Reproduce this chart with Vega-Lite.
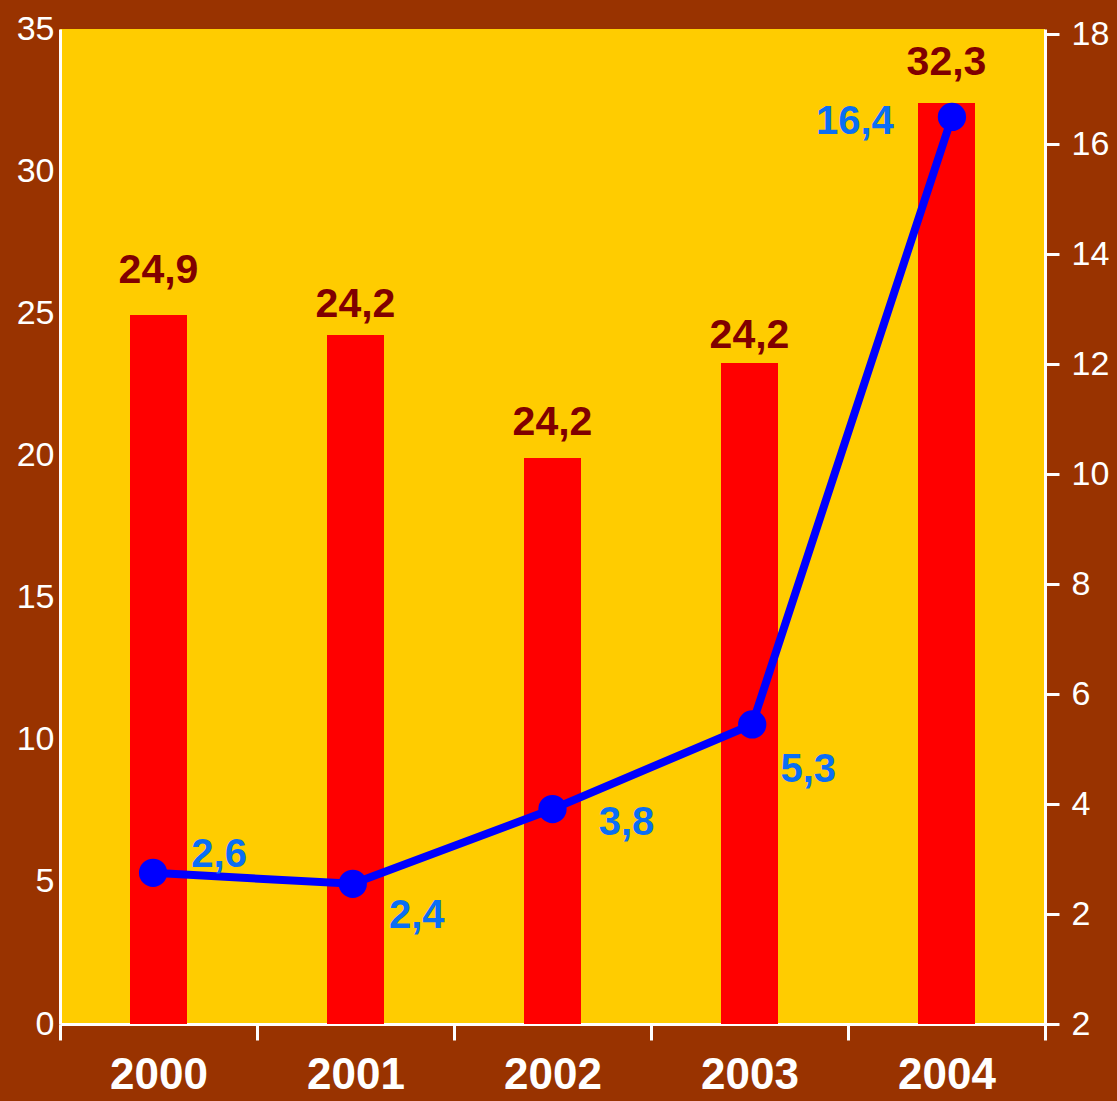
{
  "$schema": "https://vega.github.io/schema/vega-lite/v6.json",
  "width": 985,
  "height": 995,
  "autosize": "none",
  "padding": {"left": 60, "top": 29, "right": 72, "bottom": 77},
  "background": "#993300",
  "config": {"view": {"fill": "#FFCC00", "stroke": null}, "font": "Liberation Sans"},
  "data": {"values": [
    {"year": "2000", "bar": 24.94, "barLabel": "24,9", "rate": 2.75, "rateLabel": "2,6"},
    {"year": "2001", "bar": 24.24, "barLabel": "24,2", "rate": 2.55, "rateLabel": "2,4"},
    {"year": "2002", "bar": 19.91, "barLabel": "24,2", "rate": 3.91, "rateLabel": "3,8"},
    {"year": "2003", "bar": 23.25, "barLabel": "24,2", "rate": 5.45, "rateLabel": "5,3"},
    {"year": "2004", "bar": 32.4, "barLabel": "32,3", "rate": 16.5, "rateLabel": "16,4"}
  ]},
  "layer": [
    {
      "layer": [
        {
          "mark": {"type": "bar", "color": "#FF0000", "size": 57},
          "encoding": {
            "x": {"field": "year", "type": "ordinal",
              "scale": {"paddingInner": 0, "paddingOuter": 0},
              "axis": {"title": null, "labelAngle": 0, "tickBand": "extent", "tickColor": "white", "tickWidth": 3, "tickSize": 16,
                "domainColor": "white", "domainWidth": 3, "labelColor": "white", "labelFontSize": 44, "labelFontWeight": "bold", "labelPadding": 13}},
            "y": {"field": "bar", "type": "quantitative",
              "scale": {"domain": [0, 35], "nice": false},
              "axis": {"title": null, "values": [0, 5, 10, 15, 20, 25, 30, 35], "grid": false, "ticks": false, "labelFlush": false,
                "labelPadding": 6, "labelFontSize": 34, "labelColor": "white", "domainColor": "white", "domainWidth": 3}}
          }
        },
        {
          "transform": [{"filter": "datum.year == '2000'"}],
          "mark": {"type": "text", "fontSize": 41, "fontWeight": "bold", "color": "#800000", "baseline": "alphabetic", "align": "center", "dy": -32},
          "encoding": {"x": {"field": "year", "type": "ordinal"}, "y": {"field": "bar", "type": "quantitative"}, "text": {"field": "barLabel"}}
        },
        {
          "transform": [{"filter": "datum.year == '2001'"}],
          "mark": {"type": "text", "fontSize": 41, "fontWeight": "bold", "color": "#800000", "baseline": "alphabetic", "align": "center", "dy": -18},
          "encoding": {"x": {"field": "year", "type": "ordinal"}, "y": {"field": "bar", "type": "quantitative"}, "text": {"field": "barLabel"}}
        },
        {
          "transform": [{"filter": "datum.year == '2002'"}],
          "mark": {"type": "text", "fontSize": 41, "fontWeight": "bold", "color": "#800000", "baseline": "alphabetic", "align": "center", "dy": -23},
          "encoding": {"x": {"field": "year", "type": "ordinal"}, "y": {"field": "bar", "type": "quantitative"}, "text": {"field": "barLabel"}}
        },
        {
          "transform": [{"filter": "datum.year == '2003'"}],
          "mark": {"type": "text", "fontSize": 41, "fontWeight": "bold", "color": "#800000", "baseline": "alphabetic", "align": "center", "dy": -15},
          "encoding": {"x": {"field": "year", "type": "ordinal"}, "y": {"field": "bar", "type": "quantitative"}, "text": {"field": "barLabel"}}
        },
        {
          "transform": [{"filter": "datum.year == '2004'"}],
          "mark": {"type": "text", "fontSize": 41, "fontWeight": "bold", "color": "#800000", "baseline": "alphabetic", "align": "center", "dy": -28},
          "encoding": {"x": {"field": "year", "type": "ordinal"}, "y": {"field": "bar", "type": "quantitative"}, "text": {"field": "barLabel"}}
        }
      ]
    },
    {
      "layer": [
        {
          "mark": {"type": "line", "color": "#0000FF", "strokeWidth": 8},
          "encoding": {
            "x": {"field": "year", "type": "ordinal", "scale": {"type": "point", "padding": 0.466}, "axis": null},
            "y": {"field": "rate", "type": "quantitative",
              "scale": {"domain": [0, 18.1], "nice": false},
              "axis": {"orient": "right", "title": null, "values": [0, 2, 4, 6, 8, 10, 12, 14, 16, 18], "grid": false,
                "labelExpr": "datum.value == 0 ? '2' : datum.label", "labelFlush": false,
                "tickColor": "white", "tickWidth": 3, "tickSize": 14, "labelPadding": 12, "labelFontSize": 34, "labelColor": "white",
                "domainColor": "white", "domainWidth": 3}}
          }
        },
        {
          "mark": {"type": "point", "filled": true, "size": 800, "color": "#0000FF", "opacity": 1},
          "encoding": {
            "x": {"field": "year", "type": "ordinal"},
            "y": {"field": "rate", "type": "quantitative"}
          }
        },
        {
          "transform": [{"filter": "datum.year == '2000'"}],
          "mark": {"type": "text", "fontSize": 40, "fontWeight": "bold", "color": "#0A6EF5", "baseline": "alphabetic", "align": "center", "dx": 66, "dy": -6},
          "encoding": {"x": {"field": "year", "type": "ordinal"}, "y": {"field": "rate", "type": "quantitative"}, "text": {"field": "rateLabel"}}
        },
        {
          "transform": [{"filter": "datum.year == '2001'"}],
          "mark": {"type": "text", "fontSize": 40, "fontWeight": "bold", "color": "#0A6EF5", "baseline": "alphabetic", "align": "center", "dx": 64, "dy": 44},
          "encoding": {"x": {"field": "year", "type": "ordinal"}, "y": {"field": "rate", "type": "quantitative"}, "text": {"field": "rateLabel"}}
        },
        {
          "transform": [{"filter": "datum.year == '2002'"}],
          "mark": {"type": "text", "fontSize": 40, "fontWeight": "bold", "color": "#0A6EF5", "baseline": "alphabetic", "align": "center", "dx": 74, "dy": 26},
          "encoding": {"x": {"field": "year", "type": "ordinal"}, "y": {"field": "rate", "type": "quantitative"}, "text": {"field": "rateLabel"}}
        },
        {
          "transform": [{"filter": "datum.year == '2003'"}],
          "mark": {"type": "text", "fontSize": 40, "fontWeight": "bold", "color": "#0A6EF5", "baseline": "alphabetic", "align": "center", "dx": 56, "dy": 58},
          "encoding": {"x": {"field": "year", "type": "ordinal"}, "y": {"field": "rate", "type": "quantitative"}, "text": {"field": "rateLabel"}}
        },
        {
          "transform": [{"filter": "datum.year == '2004'"}],
          "mark": {"type": "text", "fontSize": 40, "fontWeight": "bold", "color": "#0A6EF5", "baseline": "alphabetic", "align": "center", "dx": -97, "dy": 17},
          "encoding": {"x": {"field": "year", "type": "ordinal"}, "y": {"field": "rate", "type": "quantitative"}, "text": {"field": "rateLabel"}}
        }
      ]
    }
  ],
  "resolve": {"scale": {"x": "independent", "y": "independent"}}
}
